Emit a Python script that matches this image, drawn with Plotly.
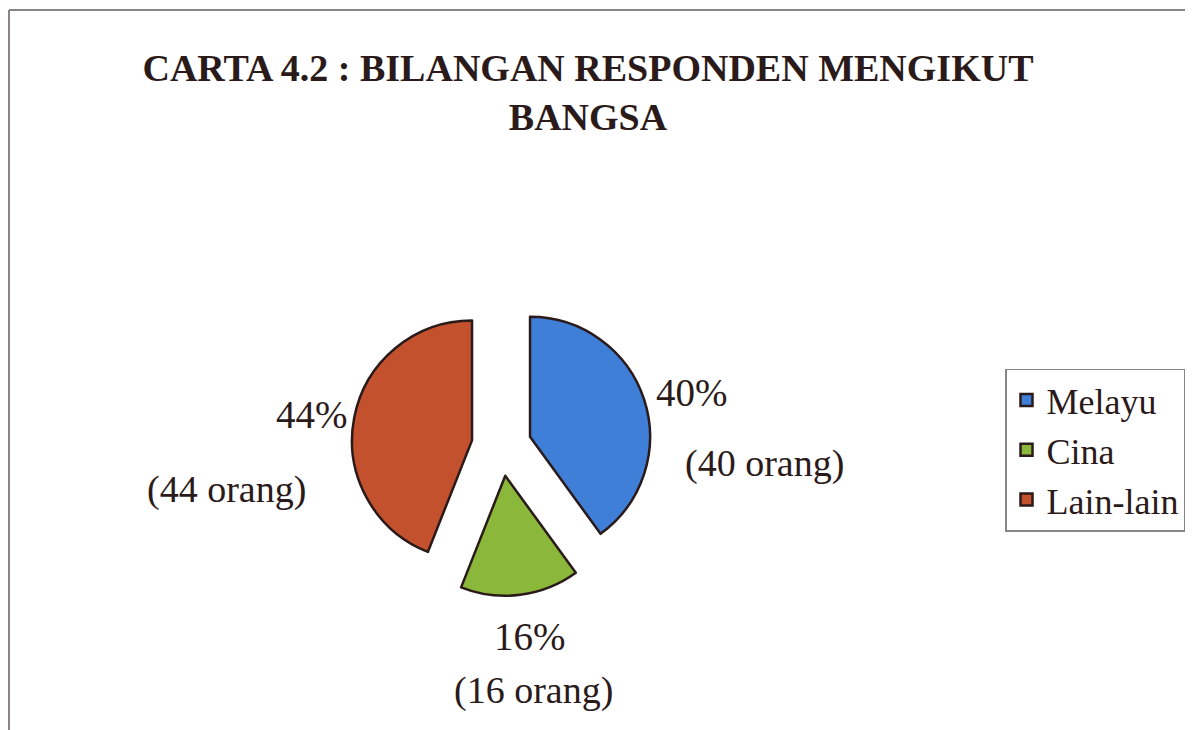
import plotly.graph_objects as go

# data
bangsa = ['Melayu', 'Cina', 'Lain-lain']
bilangan = [40, 16, 44]
warna = ['#3f7fd8', '#8bb83a', '#c4512e']

# the page body has an 8px margin, so the figure sits at (8, 8)
OX, OY = 8, 8
W, H = 1193 - OX, 730 - OY
serif = 'Liberation Serif, Times New Roman, serif'
ink = '#2b1a1a'
grey = '#8a8488'


def px(x, y):
    # screen pixel -> paper coords (margins are zero)
    return (x - OX) / W, 1 - (y - OY) / H


jumlah = sum(bilangan)
peratus = [round(100 * b / jumlah) for b in bilangan]

cx, cy = px(501.5, 446)
half_w, half_h = 150 / W, 150 / H

fig = go.Figure()

fig.add_trace(go.Pie(
    labels=bangsa,
    values=bilangan,
    sort=False,
    direction='clockwise',
    rotation=0,
    pull=[0.25, 0.25, 0.25],
    marker=dict(colors=warna, line=dict(color=ink, width=2.5)),
    textinfo='none',
    hoverinfo='label+value+percent',
    domain=dict(x=[cx - half_w, cx + half_w], y=[cy - half_h, cy + half_h]),
))

# label positions (screen pixels): percent line and count line per slice
pos_pct = [(692, 392), (530, 636), (312, 415)]
pos_org = [(764, 463), (533, 690), (226, 490)]

for i in range(len(bangsa)):
    x, y = px(*pos_pct[i])
    fig.add_annotation(x=x, y=y, xref='paper', yref='paper',
                       xanchor='center', yanchor='middle',
                       text=f'{peratus[i]}%', showarrow=False,
                       font=dict(family=serif, size=39, color=ink))
    x, y = px(*pos_org[i])
    fig.add_annotation(x=x, y=y, xref='paper', yref='paper',
                       xanchor='center', yanchor='middle',
                       text=f'({bilangan[i]} orang)', showarrow=False,
                       font=dict(family=serif, size=38, color=ink))

# outer frame lines (top and left)
x0, ytop = px(9, 10)
fig.add_shape(type='line', xref='paper', yref='paper',
              x0=x0, x1=1, y0=ytop, y1=ytop,
              line=dict(color=grey, width=2))
fig.add_shape(type='line', xref='paper', yref='paper',
              x0=x0, x1=x0, y0=0, y1=ytop,
              line=dict(color=grey, width=2))

tx, ty = px(588, 81)
lx, ly = px(1185, 450)

fig.update_layout(
    width=W, height=H,
    margin=dict(l=0, r=0, t=0, b=0),
    paper_bgcolor='white',
    plot_bgcolor='white',
    title=dict(text='CARTA 4.2 : BILANGAN RESPONDEN MENGIKUT<br>BANGSA',
               x=tx, xanchor='center', y=ty, yanchor='top',
               font=dict(family=serif, size=38, color=ink, weight='bold')),
    legend=dict(x=lx, xanchor='right', y=ly, yanchor='middle',
                bordercolor=grey, borderwidth=1.5, bgcolor='white',
                font=dict(family=serif, size=36, color=ink),
                traceorder='normal'),
    showlegend=True,
)

fig.write_html('out.html')
